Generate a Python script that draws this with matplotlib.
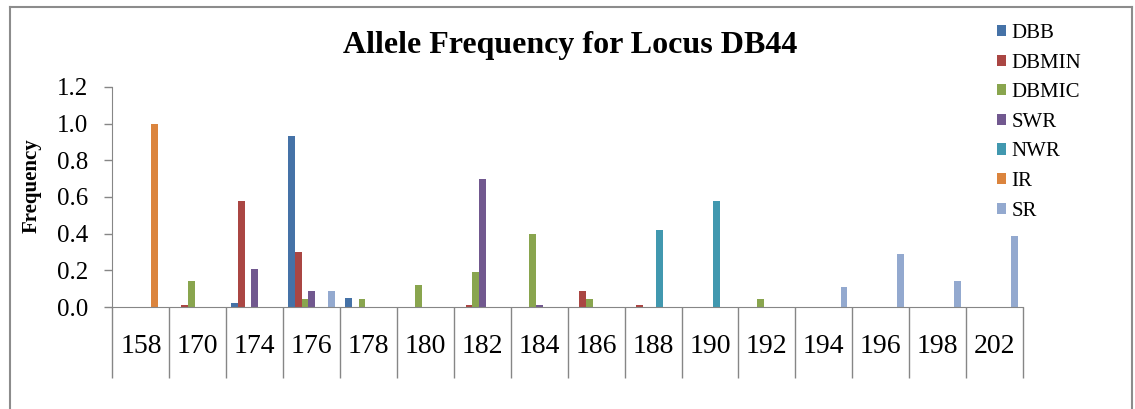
import numpy as np
import matplotlib
matplotlib.use('Agg')
import matplotlib.pyplot as plt
from matplotlib.patches import Patch
from matplotlib.lines import Line2D

# 数据
alleles = ['158', '170', '174', '176', '178', '180', '182', '184',
           '186', '188', '190', '192', '194', '196', '198', '202']
series_names = ['DBB', 'DBMIN', 'DBMIC', 'SWR', 'NWR', 'IR', 'SR']

DBB = [0, 0, 0.02, 0.93, 0.05, 0, 0, 0, 0, 0, 0, 0, 0, 0, 0, 0]
DBMIN = [0, 0.01, 0.58, 0.30, 0, 0, 0.01, 0, 0.09, 0.01, 0, 0, 0, 0, 0, 0]
DBMIC = [0, 0.14, 0, 0.045, 0.045, 0.12, 0.19, 0.40, 0.045, 0, 0, 0.045, 0, 0, 0, 0]
SWR = [0, 0, 0.21, 0.09, 0, 0, 0.70, 0.01, 0, 0, 0, 0, 0, 0, 0, 0]
NWR = [0, 0, 0, 0, 0, 0, 0, 0, 0, 0.42, 0.58, 0, 0, 0, 0, 0]
IR = [1.0, 0, 0, 0, 0, 0, 0, 0, 0, 0, 0, 0, 0, 0, 0, 0]
SR = [0, 0, 0, 0.09, 0, 0, 0, 0, 0, 0, 0, 0, 0.11, 0.29, 0.14, 0.39]

colors = ['#4572A7', '#AA4643', '#89A54E', '#71588F', '#4198AF', '#DB843D', '#93A9CF']
grey = '#868686'

plt.rc('font', family='Liberation Serif', size=14)

fig = plt.figure(figsize=(11.35, 4.09), dpi=100)
ax = fig.add_axes([112.5 / 1135, 102 / 409, 910.5 / 1135, 220 / 409])

x = np.arange(len(alleles))
w = 1 / 8.5  # gap width 150%
values = [DBB, DBMIN, DBMIC, SWR, NWR, IR, SR]
for i in range(len(values)):
    ax.bar(x + (i - 3) * w, values[i], width=w, color=colors[i], linewidth=0)

ax.set_xlim(-0.5, len(alleles) - 0.5)
ax.set_ylim(0, 1.2)
ax.set_yticks(np.arange(0, 1.21, 0.2))
ax.set_yticklabels(['%.1f' % v for v in np.arange(0, 1.21, 0.2)], fontsize=18)
ax.tick_params(axis='y', direction='out', length=5.5, width=1, color=grey, pad=12)
ax.set_xticks([])

ax.spines['top'].set_visible(False)
ax.spines['right'].set_visible(False)
ax.spines['left'].set_color(grey)
ax.spines['bottom'].set_color(grey)

# 下方的表格式类别标签
y_bottom = -0.387
ax.vlines(np.arange(len(alleles) + 1) - 0.5, y_bottom, 0, color=grey, linewidth=1, clip_on=False)
for i in range(len(alleles)):
    ax.text(x[i], -0.213, alleles[i], ha='center', va='center', fontsize=20)

ax.set_ylabel('Frequency', fontsize=15, fontweight='bold')
ax.yaxis.set_label_coords(-0.0774, 0.55)

fig.text(0.502, (409 - 53) / 409, 'Allele Frequency for Locus DB44', ha='center', va='baseline',
         fontsize=23, fontweight='bold')

# 图例
handles = [Patch(facecolor=c, edgecolor='none') for c in colors]
fig.legend(handles, series_names, loc='upper left', bbox_to_anchor=(997 / 1135, 1 - 24 / 409),
           frameon=False, borderpad=0, borderaxespad=0, handlelength=0.45, handleheight=0.45,
           handletextpad=0.25, labelspacing=0.51, fontsize=15)

# 外边框
for xs, ys in [([10, 10], [7, 420]), ([10, 1132], [7, 7]), ([1132, 1132], [7, 420])]:
    fig.add_artist(Line2D([v / 1135 for v in xs], [1 - v / 409 for v in ys], color='#8c8c8c',
                          linewidth=1.5, clip_on=False))

plt.savefig('out.png', dpi=100)
